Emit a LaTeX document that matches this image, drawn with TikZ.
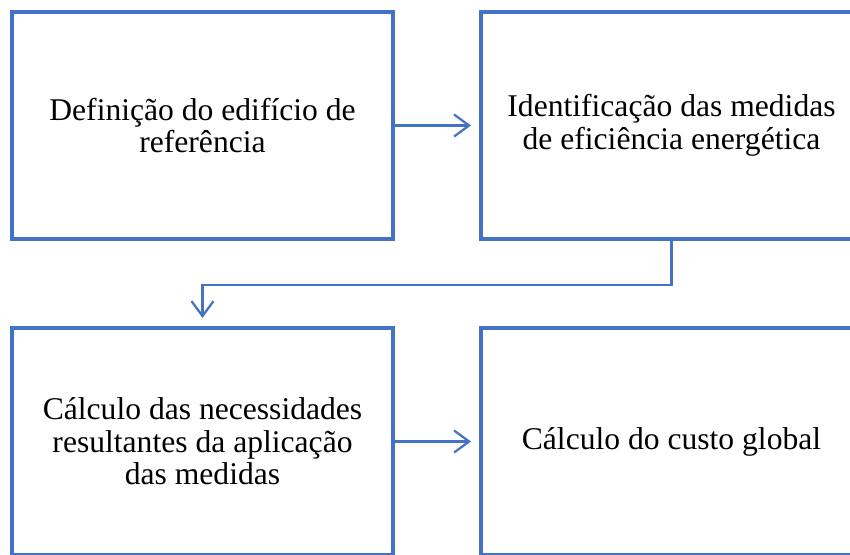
\documentclass[tikz,border=0pt]{standalone}
\usepackage{fontspec}
\setmainfont{Liberation Serif}
\usetikzlibrary{arrows.meta}
\definecolor{obox}{HTML}{4472C4}
\begin{document}
\begin{tikzpicture}[x=1pt,y=-1pt,
  box/.style={draw=obox, line width=4pt, minimum width=381pt, minimum height=227pt,
    inner sep=0pt, align=center, font=\fontsize{31.6}{32.5}\selectfont},
  conn/.style={draw=obox, line width=2.25pt, shorten >=8pt,
    -{Straight Barb[length=15pt,width=22pt]}}]
\useasboundingbox (0,0) rectangle (850,554);
\clip (0,0) rectangle (850,554);
\node[box] (a) at (202.5,125.5) {Definição do edifício de\\referência};
\node[box] (b) at (671.5,125.5) {Identificação das medidas\\de eficiência energética};
\node[box] (c) at (202.5,441.5) {Cálculo das necessidades\\resultantes da aplicação\\das medidas};
\node[box] (d) at (671.5,441.5) {Cálculo do custo global};
\draw[conn] (a.east) -- (b.west);
\draw[conn] (b.south) -- ++(0,44) -| (c.north);
\draw[conn] (c.east) -- (d.west);
\end{tikzpicture}
\end{document}
